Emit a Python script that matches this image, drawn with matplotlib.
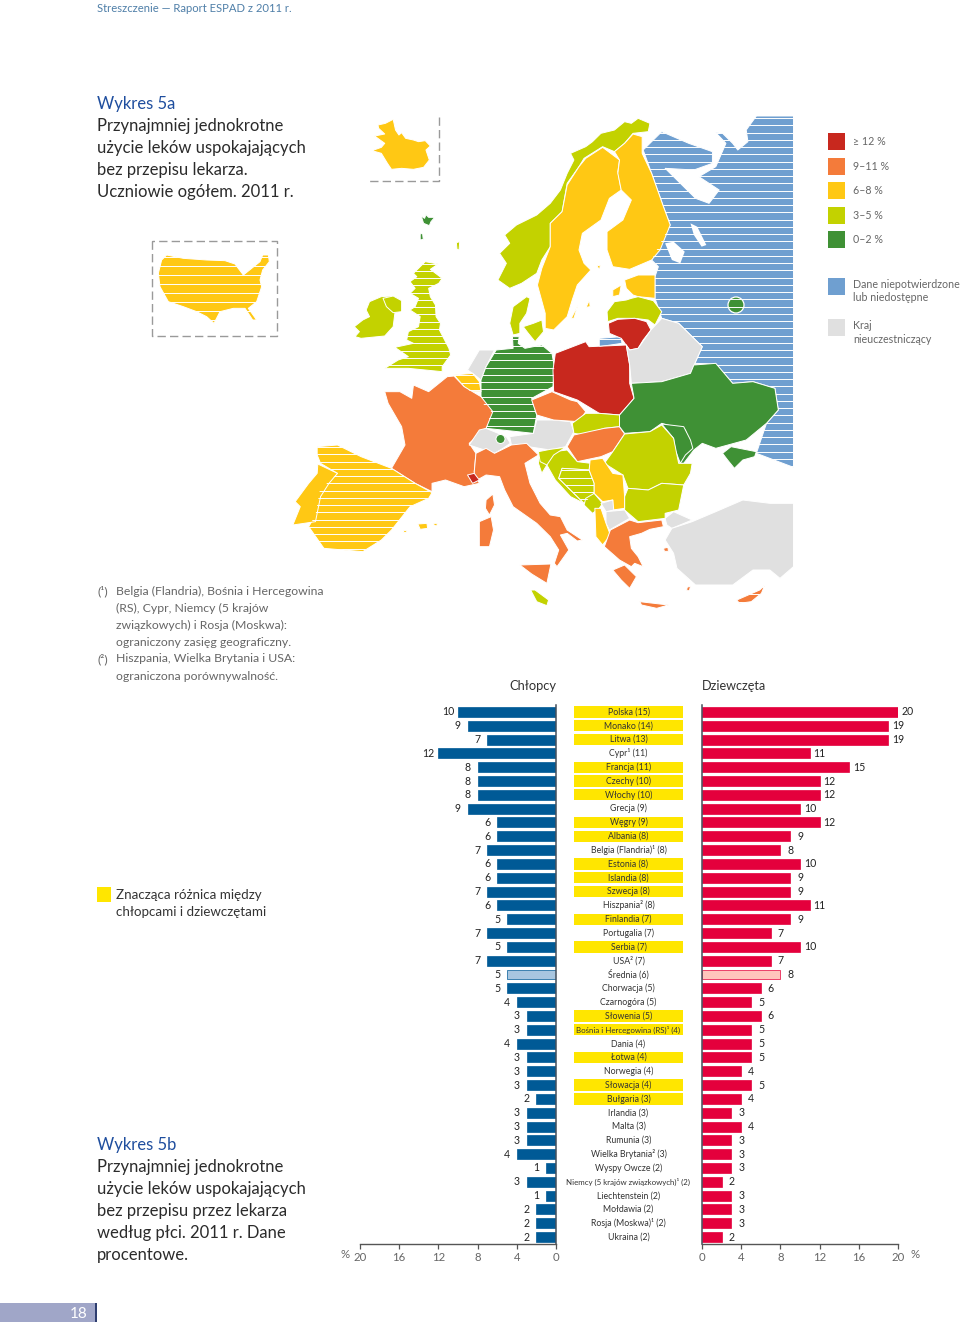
import matplotlib
matplotlib.use("Agg")
import matplotlib.pyplot as plt
from matplotlib.patches import Polygon, Rectangle, Circle

plt.rcParams['font.family'] = ['Lato', 'DejaVu Sans']

# ---------- data ----------
countries = ["Polska (15)", "Monako (14)", "Litwa (13)", "Cypr¹ (11)", "Francja (11)", "Czechy (10)", "Włochy (10)",
             "Grecja (9)", "Węgry (9)", "Albania (8)", "Belgia (Flandria)¹ (8)", "Estonia (8)", "Islandia (8)",
             "Szwecja (8)", "Hiszpania² (8)", "Finlandia (7)", "Portugalia (7)", "Serbia (7)", "USA² (7)", "Średnia (6)",
             "Chorwacja (5)", "Czarnogóra (5)", "Słowenia (5)", "Bośnia i Hercegowina (RS)¹ (4)", "Dania (4)",
             "Łotwa (4)", "Norwegia (4)", "Słowacja (4)", "Bułgaria (3)", "Irlandia (3)", "Malta (3)", "Rumunia (3)",
             "Wielka Brytania² (3)", "Wyspy Owcze (2)", "Niemcy (5 krajów związkowych)¹ (2)", "Liechtenstein (2)",
             "Mołdawia (2)", "Rosja (Moskwa)¹ (2)", "Ukraina (2)"]
boys = [10, 9, 7, 12, 8, 8, 8, 9, 6, 6, 7, 6, 6, 7, 6, 5, 7, 5, 7, 5, 5, 4, 3, 3, 4, 3, 3, 3, 2, 3, 3, 3, 4, 1, 3, 1, 2, 2, 2]
girls = [20, 19, 19, 11, 15, 12, 12, 10, 12, 9, 8, 10, 9, 9, 11, 9, 7, 10, 7, 8, 6, 5, 6, 5, 5, 5, 4, 5, 4, 3, 4, 3, 3, 3, 2, 3, 3, 3, 2]
significant = [1, 1, 1, 0, 1, 1, 1, 0, 1, 1, 0, 1, 1, 1, 0, 1, 0, 1, 0, 0, 0, 0, 1, 1, 0, 1, 0, 1, 1, 0, 0, 0, 0, 0, 0, 0, 0, 0, 0]
avg_index = 19
ticks = [0, 4, 8, 12, 16, 20]
legend_labels = ["≥ 12 %", "9–11 %", "6–8 %", "3–5 %", "0–2 %"]

RED, ORG, YEL, LIM, GRN, BLU, GRY = "#C8281E", "#F47B3A", "#FFC814", "#C3D200", "#3F9135", "#6F9FD0", "#E0E0E0"
DK = "#2b2b2b"; MID = "#666666"
W, H = 960, 1325

fig = plt.figure(figsize=(9.6, 13.25), dpi=100)
bg = fig.add_axes([0, 0, 1, 1]); bg.set_xlim(0, W); bg.set_ylim(H, 0); bg.axis("off")


def z3(*p, sx=2.96):
    return [(280 + x / sx, 110 + y / 3) for x, y in p]


def z4(*p, sx=2.96):
    return [(280 + x / sx, 340 + y / 3) for x, y in p]


def z8(*p):
    return [(140 + x / 3, 110 + y / 3) for x, y in p]


# ---------- map outlines: (points, colour, stripe spacing) ----------
russia = z3((1520, 18), (1410, 18), (1380, 60), (1385, 95), (1355, 120), (1340, 100), (1310, 70), (1290, 68), (1320, 100),
            (1290, 170), (1240, 200), (1300, 240), (1270, 280), (1230, 265), (1190, 225), (1140, 175), (1225, 180),
            (1280, 160), (1280, 125), (1210, 100), (1130, 65), (1075, 120), (1100, 190), (1135, 290), (1155, 345),
            (1115, 420), (1100, 450), (1120, 470), (1110, 500), (1110, 565), (1130, 625), (1180, 640), (1250, 710),
            (1228, 760)) + z4((1290, 72), (1340, 130), (1400, 125), (1465, 145), (1475, 210), (1440, 250), (1410, 340),
                              (1520, 382))
regions = [
    (russia, BLU, 7.25),
    (z3((945, 685), (1010, 680), (1012, 700), (945, 710)), BLU, 7.25),
    (z3((290, 45), (312, 40), (335, 28), (342, 60), (352, 75), (360, 68), (372, 85), (395, 90), (410, 95), (430, 92),
        (445, 108), (432, 120), (442, 150), (425, 172), (395, 178), (360, 175), (330, 178), (318, 160), (300, 130),
        (272, 122), (300, 112), (310, 100), (280, 78), (310, 72), (292, 55)), YEL, 0),
    (z8((80, 435), (130, 445), (200, 450), (255, 452), (285, 462), (310, 495), (335, 475), (360, 455), (368, 435),
        (385, 435), (388, 455), (368, 480), (360, 510), (365, 530), (350, 575), (325, 595), (350, 630), (338, 630),
        (315, 595), (280, 595), (240, 605), (222, 640), (200, 620), (170, 605), (130, 590), (85, 575), (60, 530),
        (55, 490), (65, 450)), YEL, 9),
    (z3((430, 455), (468, 462), (445, 478), (480, 505), (470, 520), (440, 535), (445, 560), (460, 585), (462, 620),
        (475, 640), (472, 660), (500, 715)) + z4((505, 45), (480, 80), (480, 95), (430, 90), (380, 85), (310, 85),
                                                 (350, 60), (380, 50), (340, 22))
     + z3((395, 700), (375, 690), (380, 665), (410, 650), (415, 620), (385, 600), (400, 590), (410, 565), (385, 550),
          (400, 535), (385, 515), (405, 500), (395, 490), (415, 470)), LIM, 7.25),
    (z3((265, 575), (300, 560), (330, 558), (340, 575), (360, 575), (360, 600), (340, 610), (335, 650), (310, 678),
        (240, 685), (222, 680), (235, 665), (220, 650), (245, 630), (265, 620), (255, 600)), LIM, 0),
    (z3((305, 565), (335, 558), (360, 572), (360, 605), (335, 608), (315, 590)), LIM, 0),
    (z3((418, 318), (428, 325), (432, 314), (440, 322), (458, 322), (447, 335), (442, 347), (425, 340)), GRN, 0),
    (z3((415, 372), (422, 370), (424, 388), (415, 390)), GRN, 0),
    (z3((522, 398), (532, 395), (530, 420), (524, 418)), LIM, 0),
    (z3((1095, 40), (1060, 25), (1040, 40), (1020, 35), (990, 60), (950, 70), (925, 95), (905, 110), (860, 130), (870, 150),
        (850, 190), (830, 240), (800, 280), (760, 315), (700, 345), (665, 375), (680, 400), (650, 430), (670, 460),
        (645, 510), (680, 535), (715, 520), (760, 490), (775, 450), (800, 410), (800, 340), (835, 305), (850, 220),
        (885, 170), (900, 145), (955, 110), (990, 125), (1020, 100), (1045, 70), (1090, 65)), LIM, 0),
    (z3((955, 112), (1005, 150), (1000, 185), (1010, 240), (975, 265), (950, 330), (895, 370), (885, 420), (900, 460),
        (920, 480), (880, 525), (865, 570), (850, 620), (810, 660), (785, 655), (785, 610), (762, 525), (775, 475),
        (800, 410), (800, 340), (835, 305), (850, 225), (885, 170), (905, 145)), YEL, 0),
    (z3((1045, 72), (1072, 80), (1072, 130), (1100, 190), (1135, 290), (1155, 345), (1125, 420), (1100, 450), (1035, 478),
        (985, 470), (968, 420), (968, 365), (1015, 330), (1040, 270), (1010, 240), (1000, 190), (1005, 150), (990, 125),
        (1020, 100)), YEL, 0),
    (z3((1020, 510), (1060, 495), (1110, 495), (1110, 565), (1060, 560), (1045, 555), (1025, 535)), YEL, 0),
    (z3((985, 540), (1010, 525), (1005, 555), (985, 560)), YEL, 0),
    (z3((906, 592), (916, 570), (918, 590)), YEL, 0),
    (z3((862, 625), (882, 585), (870, 625)), YEL, 0),
    (z3((938, 468), (948, 465), (946, 480)), YEL, 0),
    (z3((968, 605), (990, 575), (1025, 570), (1040, 565), (1060, 560), (1105, 572), (1130, 605), (1110, 645), (1090, 630),
        (1050, 625), (1000, 625), (970, 635)), LIM, 0),
    (z3((972, 640), (1000, 628), (1050, 625), (1085, 635), (1098, 660), (1075, 690), (1060, 715), (1035, 720), (1010, 685),
        (975, 670)), RED, 0),
    (z3((690, 590), (730, 560), (740, 565), (730, 610), (710, 640), (710, 670), (690, 675), (680, 640)), LIM, 0),
    (z3((720, 650), (750, 640), (775, 630), (780, 665), (755, 695), (735, 670)), LIM, 0),
    (z4((555, 90), (590, 30), (635, 30), (610, 80), (595, 120), (570, 100)), GRY, 0),
    (z4((640, 30), (690, 25), (688, -10), (708, -10), (705, 10), (725, 25), (775, 15), (805, 40), (812, 80), (808, 140),
        (745, 175), (760, 225), (750, 280), (610, 265), (625, 215), (595, 185), (595, 120), (610, 80)), GRN, 7.25),
    (z4((515, 105), (570, 100), (590, 125), (595, 155), (565, 155), (545, 140)), YEL, 7.25),
    (z4((565, 158), (582, 158), (582, 180), (570, 180)), GRY, 0),
    (z4((310, 155), (355, 155), (390, 175), (395, 135), (440, 155), (495, 110), (515, 108), (545, 140), (595, 170),
        (630, 215), (610, 265), (560, 310), (580, 340), (575, 395), (590, 430), (545, 440), (490, 420), (450, 430),
        (450, 455), (400, 430), (330, 385), (370, 315), (360, 260), (320, 190)), ORG, 0),
    (z4((610, 480), (630, 462), (635, 495), (620, 525), (608, 505)), ORG, 0),
    (z4((590, 545), (625, 530), (632, 570), (620, 620), (590, 620)), ORG, 0),
    (z4((110, 320), (170, 315), (240, 350), (330, 385), (400, 430), (450, 458), (440, 475), (385, 500), (330, 570),
        (300, 600), (245, 635), (130, 625), (85, 560), (105, 525), (118, 450), (170, 400), (120, 370), (110, 345)), YEL, 7.25),
    (z4((112, 372), (170, 400), (145, 430), (120, 470), (105, 545), (38, 555), (60, 500), (45, 485), (85, 430),
        (110, 400)), YEL, 0),
    (z4((408, 552), (435, 550), (437, 565), (415, 568)), YEL, 0),
    (z4((455, 550), (466, 550), (464, 558), (456, 556)), YEL, 0),
    (z4((365, 572), (376, 572), (374, 578), (366, 577)), YEL, 0),
    (z4((560, 315), (590, 270), (610, 265), (670, 290), (682, 310), (660, 325), (635, 340), (590, 325)), GRY, 0),
    (z4((680, 290), (750, 280), (760, 240), (810, 240), (860, 245), (870, 275), (845, 320), (800, 330), (735, 320),
        (685, 315)), GRY, 0),
    (z4((580, 340), (610, 325), (635, 340), (685, 315), (730, 310), (765, 345), (725, 370), (740, 430), (770, 490),
        (800, 525), (830, 530), (850, 570), (895, 600), (880, 603), (850, 580), (830, 585), (855, 630), (820, 680),
        (812, 670), (825, 630), (800, 590), (760, 550), (690, 500), (665, 450), (650, 410), (610, 405), (575, 425),
        (575, 395)), ORG, 0),
    (z4((710, 675), (802, 672), (790, 730), (745, 702)), ORG, 0),
    (z4((742, 750), (755, 750), (795, 780), (790, 797), (760, 785)), LIM, 0),
    (z4((555, 405), (575, 400), (590, 420), (570, 430)), RED, 0),
    (z4((745, 180), (805, 155), (860, 180), (880, 185), (905, 215), (885, 245), (810, 240), (760, 225)), ORG, 0),
    (z4((815, 40), (905, 5), (915, 20), (1025, 15), (1035, 75), (1035, 130), (1048, 175), (1005, 225), (945, 220),
        (880, 180), (810, 155), (808, 90)), RED, 0),
    (z4((905, 220), (945, 220), (1005, 225), (1005, 260), (960, 265), (900, 285), (870, 280), (865, 250)), LIM, 0),
    (z4((870, 285), (960, 265), (1005, 260), (1020, 282), (985, 335), (950, 350), (880, 365), (850, 320)), ORG, 0),
    (z3((1035, 720), (1060, 715), (1098, 660), (1130, 625), (1180, 640), (1250, 710), (1228, 760))
     + z4((1215, 100), (1130, 125), (1040, 130), (1035, 75), (1025, 15)), GRY, 0),
    (z4((1040, 130), (1130, 125), (1215, 100), (1225, 75), (1290, 70), (1340, 130), (1400, 125), (1465, 145), (1475, 210),
        (1440, 250), (1380, 300), (1290, 325), (1250, 310), (1225, 330), (1195, 370), (1180, 370), (1195, 340), (1215, 320),
        (1200, 270), (1130, 250), (1095, 275), (1020, 280), (1005, 260), (1005, 225), (1048, 175)), GRN, 0),
    (z4((1310, 340), (1335, 320), (1410, 335), (1405, 350), (1370, 360), (1345, 385), (1325, 360)), GRN, 0),
    (z4((1130, 252), (1195, 260), (1215, 300), (1222, 325), (1200, 345), (1185, 370), (1170, 330), (1165, 295)), GRN, 0),
    (z4((1020, 282), (1095, 275), (1130, 255), (1165, 295), (1180, 370), (1220, 370), (1215, 400), (1195, 435), (1130, 430),
        (1090, 450), (1030, 445), (1015, 405), (960, 370), (985, 335)), LIM, 0),
    (z4((1030, 445), (1090, 450), (1130, 430), (1195, 435), (1180, 510), (1140, 520), (1140, 535), (1060, 545), (1020, 510),
        (1020, 470)), LIM, 0),
    (z4((765, 335), (810, 335), (850, 330), (880, 365), (920, 370), (915, 390), (835, 385), (825, 415), (900, 490),
        (860, 470), (815, 420), (790, 375), (775, 400), (765, 370)), LIM, 0),
    (z4((765, 335), (800, 328), (845, 322), (810, 345), (790, 375), (770, 365)), LIM, 0),
    (z4((835, 385), (915, 390), (930, 430), (930, 460), (900, 490), (825, 415)), LIM, 7.25),
    (z4((905, 475), (930, 460), (955, 490), (945, 505), (925, 520), (900, 495)), LIM, 0),
    (z4((918, 360), (955, 355), (985, 400), (1015, 405), (1020, 470), (1020, 505), (985, 510), (985, 480), (955, 485),
        (930, 460), (930, 430), (915, 390)), YEL, 0),
    (z4((950, 490), (985, 480), (988, 510), (965, 515)), GRY, 0),
    (z4((965, 515), (1020, 510), (1035, 535), (975, 570), (965, 550)), GRY, 0),
    (z4((932, 505), (950, 505), (965, 550), (978, 585), (955, 615), (935, 590)), YEL, 0),
    (z4((978, 570), (1035, 540), (1060, 548), (1130, 540), (1135, 560), (1095, 568), (1070, 580), (1035, 590), (1040, 625),
        (1060, 650), (1075, 680), (1050, 670), (1040, 680), (1005, 660), (960, 620)), ORG, 0),
    (z4((985, 690), (1020, 675), (1055, 710), (1035, 745), (1010, 720)), ORG, 0),
    (z4((1065, 785), (1150, 795), (1115, 805), (1070, 795)), ORG, 0),
    (z4((1205, 742), (1215, 738), (1212, 752), (1204, 752)), ORG, 0),
    (z4((1135, 625), (1148, 622), (1150, 634), (1138, 634)), ORG, 0),
    (z4((1352, 780), (1420, 750), (1435, 735), (1425, 760), (1395, 785), (1360, 790)), ORG, 7.25),
    (z4((1140, 535), (1165, 515), (1220, 540), (1160, 565), (1145, 555)), GRY, 0),
    (z4((1140, 600), (1160, 565), (1220, 545), (1290, 515), (1370, 480), (1450, 490), (1520, 490), (1520, 680), (1480, 715),
        (1450, 690), (1400, 690), (1340, 735), (1230, 735), (1175, 685), (1165, 640)), GRY, 0),
]

for pts, col, step in regions:
    patch = Polygon(pts, closed=True, fc=col, ec="white", lw=0.7, joinstyle="round")
    bg.add_patch(patch)
    if step:
        ys = [p[1] for p in pts]; xs = [p[0] for p in pts]
        y = min(ys) + 2
        while y < max(ys):
            ln, = bg.plot([min(xs), max(xs)], [y, y], color="white", lw=0.7)
            ln.set_clip_path(patch)
            y += step

# lakes on the Russian territory
for lake in (z3((1140, 400), (1165, 395), (1198, 425), (1185, 460), (1160, 450)),
             z3((1215, 340), (1235, 350), (1262, 405), (1248, 410), (1225, 375))):
    bg.add_patch(Polygon(lake, closed=True, fc="white", ec="none"))

# small circles: Moscow, Liechtenstein
bg.add_patch(Circle((736, 305), 8, fc=GRN, ec="white", lw=0.9))
bg.add_patch(Circle((500.5, 439), 4.5, fc=GRN, ec="white", lw=0.7))

# inset frames
dash = dict(color="#9a9a9a", lw=1.0, ls=(0, (6, 3)))
bg.plot([439, 439, 369], [117, 181, 181], **dash)
bg.plot([152, 152, 277, 277, 152], [241, 336, 336, 241, 241], **dash)

# ---------- map legend ----------
LEG = 7.7
swatch_y = [133, 158, 182, 207, 231]
for yy, col, lab in zip(swatch_y, [RED, ORG, YEL, LIM, GRN], legend_labels):
    bg.add_patch(Rectangle((828, yy), 17, 17, fc=col, ec="none"))
    bg.text(853, yy + 8.5, lab, fontsize=LEG, color=MID, va="center")
bg.add_patch(Rectangle((828, 278), 17, 17, fc=BLU, ec="none"))
bg.add_patch(Rectangle((828, 319), 17, 17, fc=GRY, ec="none"))
bg.text(853, 284, "Dane niepotwierdzone", fontsize=LEG, color=MID, va="center")
bg.text(853, 297.5, "lub niedostępne", fontsize=LEG, color=MID, va="center")
bg.text(853, 325.5, "Kraj", fontsize=LEG, color=MID, va="center")
bg.text(853, 339.5, "nieuczestniczący", fontsize=LEG, color=MID, va="center")

# ---------- text ----------
TITLE = "#1F4E9E"
TS = 12.0
bg.text(97, 8, "Streszczenie — Raport ESPAD z 2011 r.", fontsize=8.1, color="#4F7FA8", va="center")
bg.text(97, 104, "Wykres 5a", fontsize=TS, color=TITLE, va="center")
for yy, s in zip([126, 148, 170, 192], ["Przynajmniej jednokrotne", "użycie leków uspokajających",
                                        "bez przepisu lekarza.", "Uczniowie ogółem. 2011 r."]):
    bg.text(97, yy, s, fontsize=TS, color=DK, va="center")
bg.text(97, 1145, "Wykres 5b", fontsize=TS, color=TITLE, va="center")
for yy, s in zip([1167, 1189, 1211, 1233, 1255], ["Przynajmniej jednokrotne", "użycie leków uspokajających",
                                                  "bez przepisu przez lekarza", "według płci. 2011 r. Dane",
                                                  "procentowe."]):
    bg.text(97, yy, s, fontsize=TS, color=DK, va="center")

FN = 8.8
for yy, s in zip([591, 608, 625, 642], ["Belgia (Flandria), Bośnia i Hercegowina", "(RS), Cypr, Niemcy (5 krajów",
                                        "związkowych) i Rosja (Moskwa):", "ograniczony zasięg geograficzny."]):
    bg.text(116, yy, s, fontsize=FN, color=MID, va="center")
for yy, s in zip([659, 676], ["Hiszpania, Wielka Brytania i USA:", "ograniczona porównywalność."]):
    bg.text(116, yy, s, fontsize=FN, color=MID, va="center")
bg.text(97, 591, "(¹)", fontsize=FN, color=MID, va="center")
bg.text(97, 659, "(²)", fontsize=FN, color=MID, va="center")

bg.text(509, 685.5, "Chłopcy", fontsize=9.3, color="#333333", va="center")
bg.text(702, 685.5, "Dziewczęta", fontsize=9.1, color="#333333", va="center")

bg.add_patch(Rectangle((97, 887), 14, 15, fc="#FFE600", ec="none"))
bg.text(116, 895, "Znacząca różnica między", fontsize=9.6, color="#333333", va="center")
bg.text(116, 911.5, "chłopcami i dziewczętami", fontsize=9.6, color="#333333", va="center")

bg.add_patch(Rectangle((0, 1303), 95, 19, fc="#A0A6C8", ec="none"))
bg.add_patch(Rectangle((95, 1303), 2, 19, fc="#2F3E70", ec="none"))
bg.text(79, 1313.5, "18", fontsize=11, color="white", va="center", ha="center")

# ---------- bar panels ----------
rows = list(range(len(countries)))
top, bottom = 705, 1244
B_BLUE, G_RED = "#005A96", "#E4003C"


def panel(x0, x1):
    ax = fig.add_axes([x0 / W, 1 - bottom / H, (x1 - x0) / W, (bottom - top) / H])
    ax.set_ylim(38.5, -0.5)
    ax.patch.set_alpha(0)
    for s in ax.spines.values():
        s.set_visible(False)
    return ax


axL = panel(360, 556); axL.set_xlim(20, 0)
axR = panel(702, 898); axR.set_xlim(0, 20)
axM = panel(574, 683); axM.set_xlim(0, 1); axM.axis("off")

fillL = [("#A8C6E0" if i == avg_index else B_BLUE) for i in rows]
fillR = [("#FFC5BC" if i == avg_index else G_RED) for i in rows]
axL.barh(rows, boys, height=0.72, color=fillL, edgecolor=B_BLUE, linewidth=0.5)
axR.barh(rows, girls, height=0.72, color=fillR, edgecolor=G_RED, linewidth=0.5)
axM.barh(rows, significant, height=0.82, color="#FFE600", edgecolor="none")

for i in rows:
    axL.annotate(str(boys[i]), (boys[i], i), xytext=(-7.2, 0), textcoords="offset points", ha="center", va="center",
                 fontsize=7.6, color="#222222")
    axR.annotate(str(girls[i]), (girls[i], i), xytext=(7.2, 0), textcoords="offset points", ha="center", va="center",
                 fontsize=7.6, color="#222222")
    n = len(countries[i])
    size = 5.65 if n > 25 else 6.3
    axM.text(0.5, i, countries[i], ha="center", va="center", fontsize=size, color="#333333", clip_on=False)

for ax, side in ((axL, "right"), (axR, "left")):
    ax.spines[side].set_visible(True); ax.spines[side].set_color("#44505c"); ax.spines[side].set_linewidth(1.1)
    ax.spines["bottom"].set_visible(True); ax.spines["bottom"].set_color("#555555"); ax.spines["bottom"].set_linewidth(1)
    ax.set_yticks([])
    ax.set_xticks(ticks)
    ax.tick_params(axis="x", length=3.5, width=0.9, color="#555555", labelsize=8.2, labelcolor=MID, pad=2.5)
bg.text(345, 1255, "%", fontsize=8.2, color=MID, va="center", ha="center")
bg.text(915, 1255, "%", fontsize=8.2, color=MID, va="center", ha="center")

fig.savefig("out.png", dpi=100)
